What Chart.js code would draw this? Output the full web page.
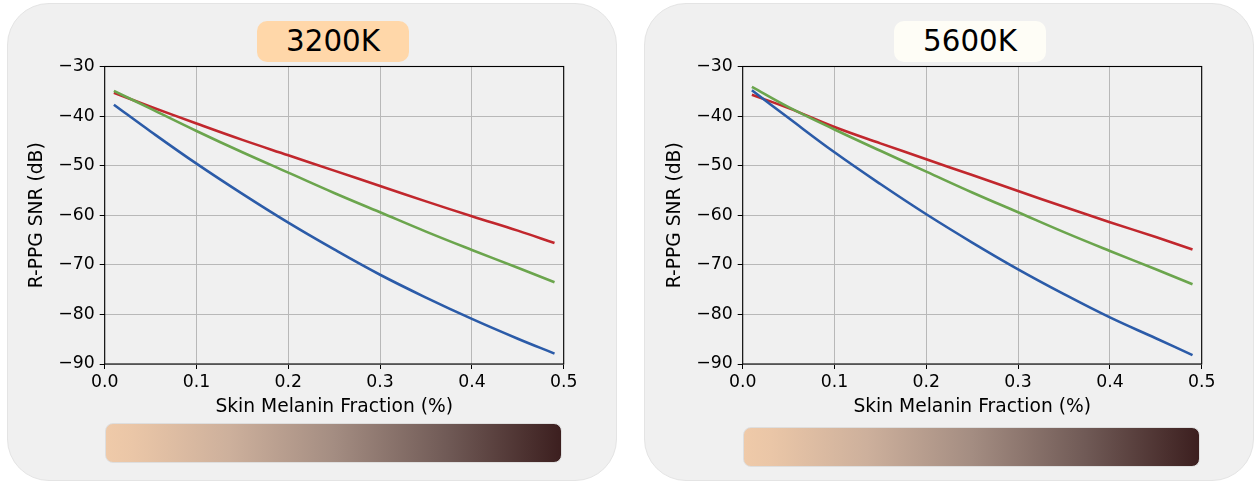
<!DOCTYPE html>
<html>
<head>
<meta charset="utf-8">
<script src="https://cdn.jsdelivr.net/npm/chart.js@4.4.1/dist/chart.umd.min.js"></script>
<style>
  html, body { margin:0; padding:0; background:#ffffff; }
  body { width:1258px; height:484px; position:relative; overflow:hidden; font-family:"DejaVu Sans", sans-serif; }
  .panel { position:absolute; top:3px; width:610px; height:478px; background:#f0f0f0; border:1px solid #e4e4e4; border-radius:42px; box-sizing:border-box; }
  .badge { position:absolute; top:21px; width:152px; height:41px; border-radius:10px; font-size:29.3px; line-height:41px; text-align:center; color:#000; }
  .bar { position:absolute; width:457px; height:40px; border-radius:8px; border:1px solid #dedede; box-sizing:border-box;
         background:linear-gradient(to right, #efcaa9 0%, #eac6a7 6%, #cdb09c 27%, #a48d82 50%, #705a56 75%, #3c1f1f 100%); }
  canvas { position:absolute; }
</style>
</head>
<body>
<div class="panel" style="left:7px;"></div>
<div class="panel" style="left:644px;"></div>
<div class="badge" style="left:257px; background:#ffd7a9;">3200K</div>
<div class="badge" style="left:894px; background:#fefdf6;">5600K</div>
<canvas id="c1" width="580" height="370" style="left:20px; top:50px;"></canvas>
<canvas id="c2" width="580" height="370" style="left:658px; top:50px;"></canvas>
<div class="bar" style="left:105px; top:423px;"></div>
<div class="bar" style="left:743px; top:427px;"></div>
<script>
// ---- data ----
const melanin = [0.01, 0.05, 0.10, 0.15, 0.20, 0.25, 0.30, 0.35, 0.40, 0.45, 0.49];
const xTicks = [0.0, 0.1, 0.2, 0.3, 0.4, 0.5];
const yTicks = [-90, -80, -70, -60, -50, -40, -30];
// 3200K panel
const blue3200  = [-37.7, -43.1, -49.6, -55.7, -61.5, -66.9, -72.0, -76.6, -80.9, -84.9, -87.9];
const green3200 = [-34.9, -38.5, -43.0, -47.3, -51.4, -55.5, -59.4, -63.3, -67.0, -70.6, -73.5];
const red3200   = [-35.3, -38.1, -41.5, -44.8, -47.9, -51.0, -54.1, -57.2, -60.2, -63.1, -65.6];
// 5600K panel
const blue5600  = [-34.8, -40.4, -47.3, -53.7, -59.8, -65.5, -70.9, -75.9, -80.6, -84.8, -88.2];
const green5600 = [-34.1, -38.2, -42.7, -47.0, -51.2, -55.4, -59.4, -63.4, -67.2, -70.9, -73.9];
const red5600   = [-35.7, -38.4, -42.2, -45.5, -48.7, -51.9, -55.1, -58.3, -61.4, -64.4, -66.9];

const xLabel = 'Skin Melanin Fraction (%)';
const yLabel = 'R-PPG SNR (dB)';
const colors = { blue:'#2b5ba8', green:'#6ba54d', red:'#c1272d' };

const FONT = '"DejaVu Sans", sans-serif';

const boxPlugin = {
  id: 'box',
  afterDraw(chart) {
    const a = chart.chartArea, ctx = chart.ctx;
    ctx.save();
    ctx.strokeStyle = '#000';
    ctx.lineWidth = 1.1;
    ctx.strokeRect(a.left, a.top, a.right - a.left, a.bottom - a.top);
    ctx.restore();
  }
};

function series(ys, color) {
  return {
    data: melanin.map((x, i) => ({ x: x, y: ys[i] })),
    borderColor: color,
    borderWidth: 2.6,
    pointRadius: 0,
    fill: false,
    tension: 0.4
  };
}

function makeChart(id, blue, green, red) {
  return new Chart(document.getElementById(id), {
    type: 'line',
    data: { datasets: [ series(blue, colors.blue), series(green, colors.green), series(red, colors.red) ] },
    plugins: [boxPlugin],
    options: {
      responsive: false,
      animation: false,
      devicePixelRatio: 1,
      layout: { padding: { top: 16.5, right: 36.3, left: 0, bottom: 0 } },
      plugins: { legend: { display: false }, tooltip: { enabled: false } },
      scales: {
        x: {
          type: 'linear', min: 0, max: 0.5,
          afterBuildTicks: s => { s.ticks = xTicks.map(v => ({ value: v })); },
          afterFit: s => { s.height = 56; },
          ticks: { color: '#000', font: { family: FONT, size: 17.3 }, padding: 3, maxRotation: 0,
                   callback: v => Number(v).toFixed(1) },
          grid: { color: '#b8b8b8', lineWidth: 1, tickColor: '#000', tickLength: 5 },
          border: { display: false },
          title: { display: true, text: xLabel, color: '#000', font: { family: FONT, size: 18.7 }, padding: { top: 0, bottom: 1.5 } }
        },
        y: {
          type: 'linear', min: -90, max: -30,
          afterBuildTicks: s => { s.ticks = yTicks.map(v => ({ value: v })); },
          afterFit: s => { s.width = 84.7; },
          ticks: { color: '#000', font: { family: FONT, size: 17.3 }, padding: 5,
                   callback: v => (v < 0 ? '\u2212' + Math.abs(v) : String(v)) },
          grid: { color: '#b8b8b8', lineWidth: 1, tickColor: '#000', tickLength: 5 },
          border: { display: false },
          title: { display: true, text: yLabel, color: '#000', font: { family: FONT, size: 18.7 }, padding: { top: 5.5, bottom: 0 } }
        }
      }
    }
  });
}

makeChart('c1', blue3200, green3200, red3200);
makeChart('c2', blue5600, green5600, red5600);
</script>
</body>
</html>
